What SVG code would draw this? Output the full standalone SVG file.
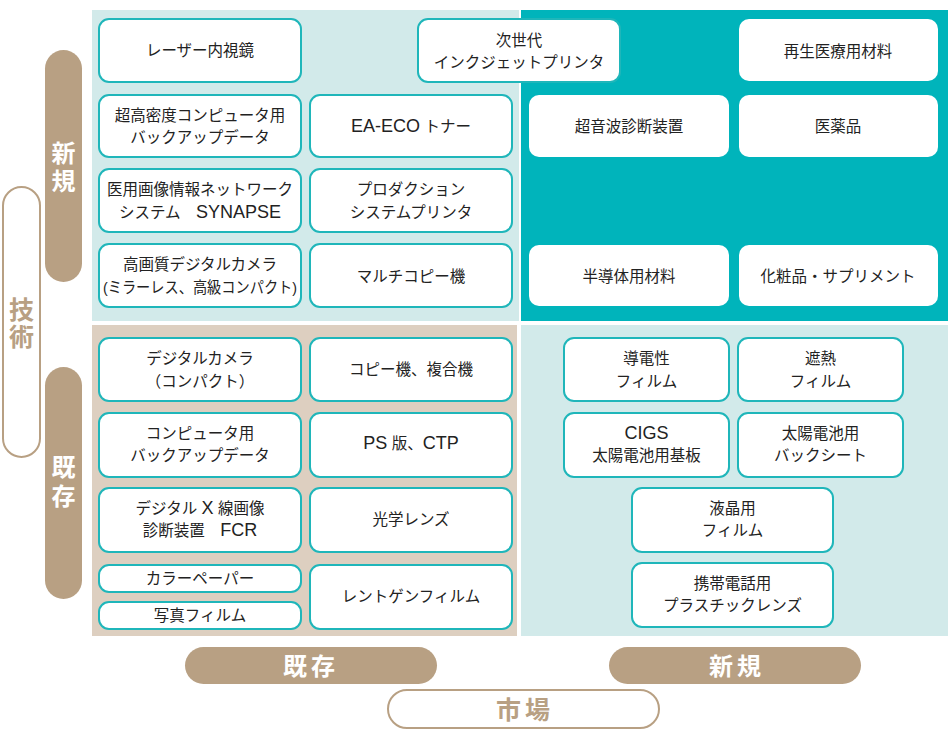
<svg xmlns="http://www.w3.org/2000/svg" width="948" height="735" viewBox="0 0 948 735">
<style>
.n rect{fill:#fff;stroke:#1fb6ba;stroke-width:2}
.w rect{fill:#fff;stroke:none}
text{font-family:"Liberation Sans","Noto Sans CJK JP",sans-serif;text-anchor:middle;dominant-baseline:central;white-space:pre}
.t{font-size:15.5px;fill:#222}
.l{font-size:18px}
.pl{font-size:24px;font-weight:bold;fill:#fff}
.po{font-size:25px;font-weight:bold;fill:#b8a083}
</style>
<rect width="948" height="735" fill="#fff"/>
<g id="quadrants">
<rect x="92" y="10" width="427" height="311" fill="#d2eaea"/>
<rect x="521" y="10" width="427" height="311" fill="#00b4bb"/>
<rect x="92" y="325" width="425" height="311" fill="#ddcfc0"/>
<rect x="521" y="325" width="427" height="311" fill="#d2eaea"/>
</g>
<g id="axis-labels">
<g id="axis-tech"><rect x="3" y="187" width="37" height="270" rx="18.5" fill="#fff" stroke="#b8a083" stroke-width="2"/><text class="po" x="21.5" y="310">技</text><text class="po" x="21.5" y="337">術</text></g>
<g id="axis-tech-new"><rect x="45" y="50" width="37" height="232" rx="18.5" fill="#b8a083"/><text class="pl" x="63.5" y="153">新</text><text class="pl" x="63.5" y="181">規</text></g>
<g id="axis-tech-old"><rect x="45" y="367" width="37" height="232" rx="18.5" fill="#b8a083"/><text class="pl" x="63.5" y="467">既</text><text class="pl" x="63.5" y="496">存</text></g>
<g id="axis-market-old"><rect x="185" y="647" width="252" height="37" rx="18.5" fill="#b8a083"/><text class="pl" x="311" y="666" letter-spacing="4">既存</text></g>
<g id="axis-market-new"><rect x="609" y="647" width="252" height="37" rx="18.5" fill="#b8a083"/><text class="pl" x="737" y="666" letter-spacing="4">新規</text></g>
<g id="axis-market"><rect x="388" y="690" width="271" height="38" rx="19" fill="#fff" stroke="#b8a083" stroke-width="2"/><text class="po" x="525" y="710" letter-spacing="4">市場</text></g>
</g>
<g id="connectors"></g>
<g id="n1" class="n"><rect x="99" y="19" width="202" height="63" rx="10"/><text class="t" x="200" y="50.5">レーザー内視鏡</text></g>
<g id="n2" class="n"><rect x="99" y="95" width="202" height="62" rx="10"/><text class="t" x="200" y="115">超高密度コンピュータ用</text><text class="t" x="200" y="137">バックアップデータ</text></g>
<g id="n3" class="n"><rect x="99" y="169" width="202" height="63" rx="10"/><text class="t" x="200" y="189">医用画像情報ネットワーク</text><text class="t" x="200" y="212">システム　<tspan class="l">SYNAPSE</tspan></text></g>
<g id="n4" class="n"><rect x="99" y="244" width="202" height="63" rx="10"/><text class="t" x="200" y="264">高画質デジタルカメラ</text><text class="t" x="200" y="287" textLength="194" lengthAdjust="spacingAndGlyphs">(ミラーレス、高級コンパクト)</text></g>
<g id="n5" class="n"><rect x="418" y="19" width="202" height="63" rx="10"/><text class="t" x="519" y="40">次世代</text><text class="t" x="519" y="62">インクジェットプリンタ</text></g>
<g id="n6" class="n"><rect x="310" y="95" width="202" height="62" rx="10"/><text class="t" x="411" y="126"><tspan class="l">EA-ECO</tspan> トナー</text></g>
<g id="n7" class="n"><rect x="310" y="169" width="202" height="63" rx="10"/><text class="t" x="411" y="189">プロダクション</text><text class="t" x="411" y="212">システムプリンタ</text></g>
<g id="n8" class="n"><rect x="310" y="244" width="202" height="63" rx="10"/><text class="t" x="411" y="276">マルチコピー機</text></g>
<g id="n9" class="w"><rect x="739" y="19" width="199" height="62" rx="10"/><text class="t" x="838" y="51">再生医療用材料</text></g>
<g id="n10" class="w"><rect x="529" y="95" width="200" height="62" rx="10"/><text class="t" x="629" y="126">超音波診断装置</text></g>
<g id="n11" class="w"><rect x="739" y="95" width="199" height="62" rx="10"/><text class="t" x="838" y="126">医薬品</text></g>
<g id="n12" class="w"><rect x="529" y="245" width="200" height="61" rx="10"/><text class="t" x="629" y="276">半導体用材料</text></g>
<g id="n13" class="w"><rect x="739" y="245" width="199" height="61" rx="10"/><text class="t" x="838" y="276">化粧品・サプリメント</text></g>
<g id="n14" class="n"><rect x="99" y="338" width="202" height="63" rx="10"/><text class="t" x="200" y="358">デジタルカメラ</text><text class="t" x="200" y="381">（コンパクト）</text></g>
<g id="n15" class="n"><rect x="310" y="338" width="202" height="63" rx="10"/><text class="t" x="411" y="369">コピー機、複合機</text></g>
<g id="n16" class="n"><rect x="99" y="413" width="202" height="64" rx="10"/><text class="t" x="200" y="433">コンピュータ用</text><text class="t" x="200" y="455">バックアップデータ</text></g>
<g id="n17" class="n"><rect x="310" y="413" width="202" height="64" rx="10"/><text class="t" x="411" y="443"><tspan class="l">PS</tspan> 版、<tspan class="l">CTP</tspan></text></g>
<g id="n18" class="n"><rect x="99" y="488" width="202" height="64" rx="10"/><text class="t" x="200" y="508">デジタル <tspan class="l">X</tspan> 線画像</text><text class="t" x="200" y="530">診断装置　<tspan class="l">FCR</tspan></text></g>
<g id="n19" class="n"><rect x="310" y="488" width="202" height="64" rx="10"/><text class="t" x="411" y="519">光学レンズ</text></g>
<g id="n20" class="n"><rect x="99" y="565" width="202" height="27" rx="10"/><text class="t" x="200" y="578">カラーペーパー</text></g>
<g id="n21" class="n"><rect x="99" y="602" width="202" height="27" rx="10"/><text class="t" x="200" y="615">写真フィルム</text></g>
<g id="n22" class="n"><rect x="310" y="565" width="202" height="64" rx="10"/><text class="t" x="411" y="596">レントゲンフィルム</text></g>
<g id="n23" class="n"><rect x="564" y="338" width="165" height="63" rx="10"/><text class="t" x="646.5" y="358">導電性</text><text class="t" x="646.5" y="381">フィルム</text></g>
<g id="n24" class="n"><rect x="738" y="338" width="165" height="63" rx="10"/><text class="t" x="820.5" y="358">遮熱</text><text class="t" x="820.5" y="381">フィルム</text></g>
<g id="n25" class="n"><rect x="564" y="413" width="165" height="64" rx="10"/><text class="t" x="646.5" y="433"><tspan class="l">CIGS</tspan></text><text class="t" x="646.5" y="455">太陽電池用基板</text></g>
<g id="n26" class="n"><rect x="738" y="413" width="165" height="64" rx="10"/><text class="t" x="820.5" y="433">太陽電池用</text><text class="t" x="820.5" y="455">バックシート</text></g>
<g id="n27" class="n"><rect x="632" y="488" width="201" height="64" rx="10"/><text class="t" x="732.5" y="508">液晶用</text><text class="t" x="732.5" y="530">フィルム</text></g>
<g id="n28" class="n"><rect x="632" y="563" width="201" height="64" rx="10"/><text class="t" x="732.5" y="583">携帯電話用</text><text class="t" x="732.5" y="605">プラスチックレンズ</text></g>
</svg>
